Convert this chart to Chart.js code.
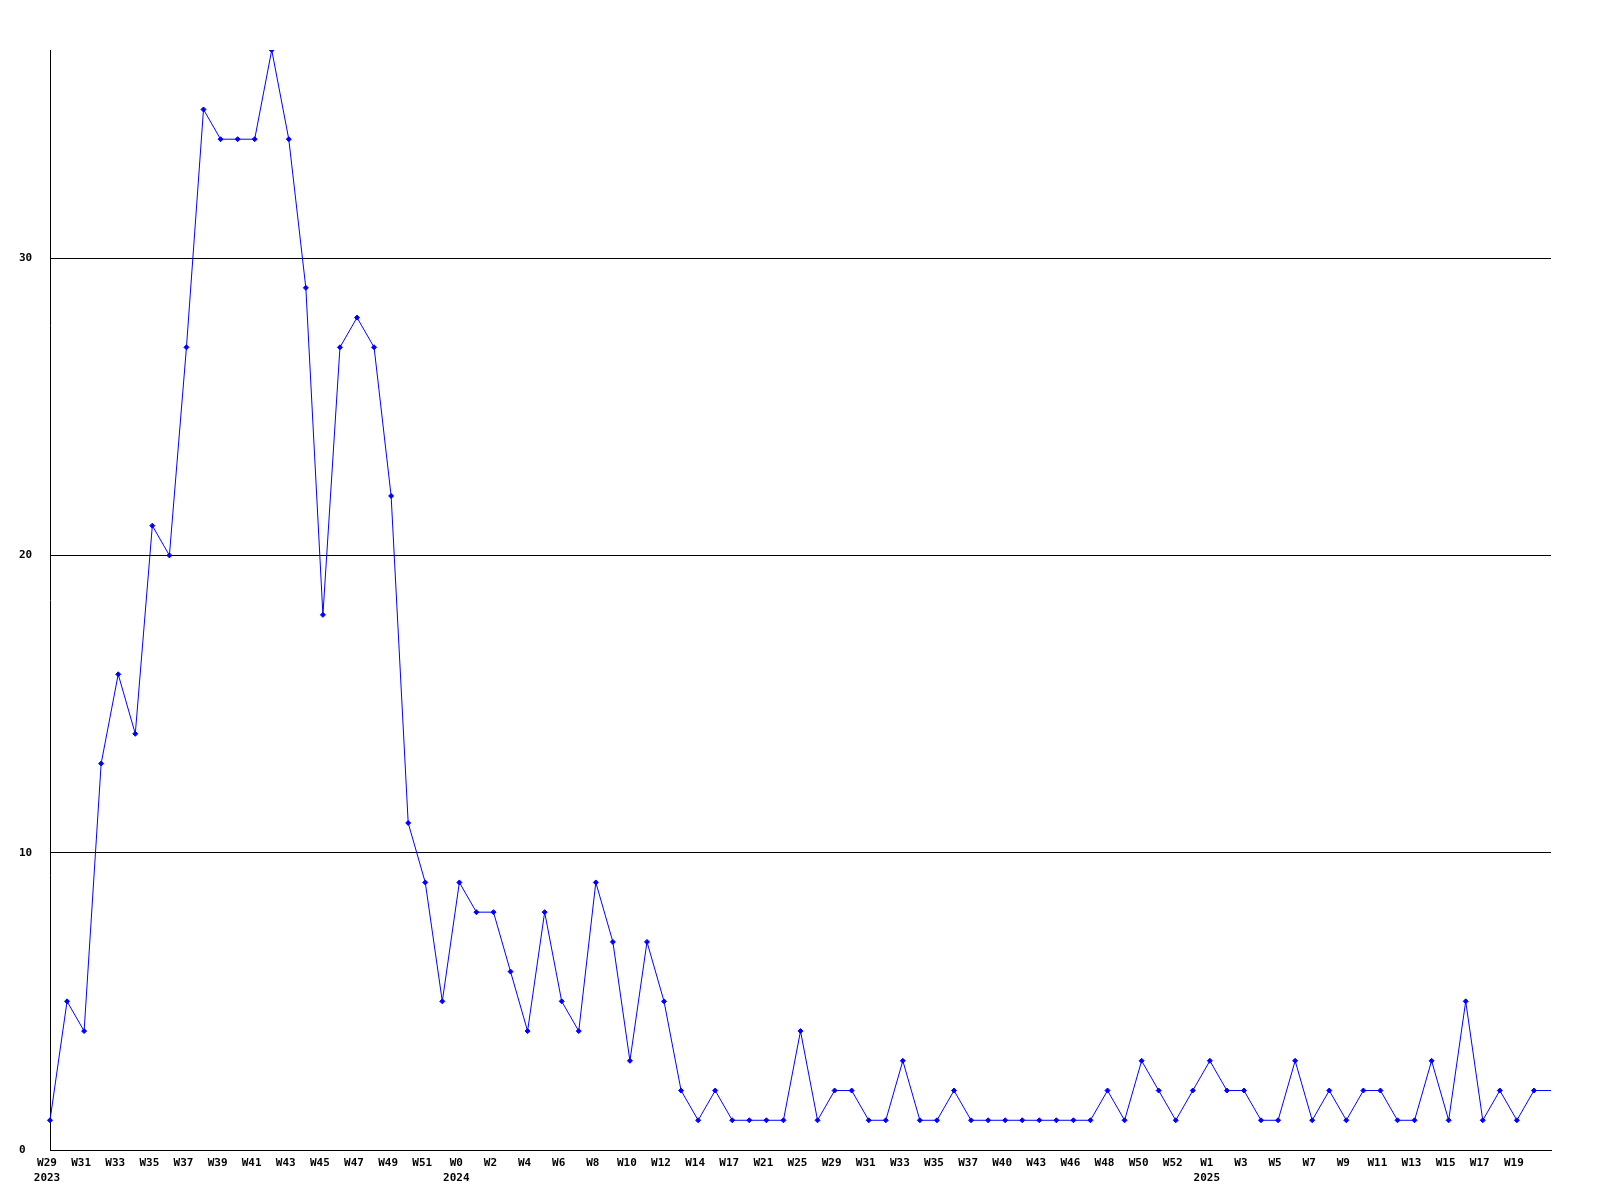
<!DOCTYPE html>
<html>
<head>
<meta charset="utf-8">
<title>Semanas</title>
<script src="https://cdn.jsdelivr.net/npm/chart.js@4/dist/chart.umd.min.js"></script>
<style>
  body { margin: 0; background: #fff; }
  canvas { display: block; }
</style>
</head>
<body>
<canvas id="grafico" width="1600" height="1200"></canvas>
<script>
// semanas (solo se muestra una de cada dos)
const semanas = [
  'W29','W30','W31','W32','W33','W34','W35','W36','W37','W38','W39','W40','W41','W42','W43','W44',
  'W45','W46','W47','W48','W49','W50','W51','W52',
  'W0','W1','W2','W3','W4','W5','W6','W7','W8','W9','W10','W11','W12','W13','W14','W16','W17','W19',
  'W21','W23','W25','W27','W29','W30','W31','W32','W33','W34','W35','W36','W37','W38','W40','W41',
  'W43','W44','W46','W47','W48','W49','W50','W51','W52',
  'W0','W1','W2','W3','W4','W5','W6','W7','W8','W9','W10','W11','W12','W13','W14','W15','W16','W17',
  'W18','W19','W20','W21'
];

// año que aparece debajo de la etiqueta
const anos = { 0: '2023', 24: '2024', 68: '2025' };

const valores = [
  1, 5, 4, 13, 16, 14, 21, 20, 27, 35, 34, 34, 34, 37, 34, 29,
  18, 27, 28, 27, 22, 11, 9, 5,
  9, 8, 8, 6, 4, 8, 5, 4, 9, 7, 3, 7, 5, 2, 1, 2, 1, 1,
  1, 1, 4, 1, 2, 2, 1, 1, 3, 1, 1, 2, 1, 1, 1, 1,
  1, 1, 1, 1, 2, 1, 3, 2, 1,
  2, 3, 2, 2, 1, 1, 3, 1, 2, 1, 2, 2, 1, 1, 3, 1, 5, 1,
  2, 1, 2, 2
];

const ticksY = [0, 10, 20, 30];

const ultimo = semanas.length - 1;
const fuente = { family: '"DejaVu Sans Mono", monospace', size: 11, weight: 'bold', lineHeight: 1.35 };

const ctx = document.getElementById('grafico').getContext('2d');
new Chart(ctx, {
  type: 'line',
  data: {
    labels: semanas,
    datasets: [{
      data: valores,
      borderColor: '#0000ff',
      backgroundColor: '#0000ff',
      borderWidth: 1,
      tension: 0,
      fill: false,
      pointStyle: 'rectRot',
      // el último punto (borde derecho) no lleva marca
      pointRadius: c => c.dataIndex === ultimo ? 0 : 2.5,
      pointBorderWidth: 1,
      pointBorderColor: '#0000ff',
      pointBackgroundColor: '#0000ff'
    }]
  },
  options: {
    responsive: false,
    animation: false,
    devicePixelRatio: 1,
    layout: { padding: { top: 50, right: 49, left: 19, bottom: 0 } },
    plugins: {
      legend: { display: false },
      tooltip: { enabled: false }
    },
    scales: {
      x: {
        type: 'category',
        offset: false,
        grid: { display: false, drawTicks: false },
        border: { display: true, color: '#000', width: 1 },
        ticks: {
          autoSkip: false,
          maxRotation: 0,
          minRotation: 0,
          padding: 6,
          labelOffset: -3,
          color: '#000',
          font: fuente,
          callback: function (val, i) {
            if (i % 2 !== 0 || i === ultimo) return '';
            return anos[i] ? [semanas[i], anos[i]] : semanas[i];
          }
        },
        afterFit: function (scale) { scale.height = 50; }
      },
      y: {
        min: 0,
        max: 37,
        grid: { display: true, color: '#000', lineWidth: 1, drawTicks: false },
        border: { display: true, color: '#000', width: 1 },
        afterBuildTicks: function (scale) {
          scale.ticks = ticksY.map(v => ({ value: v }));
        },
        ticks: {
          crossAlign: 'far',
          padding: 0,
          color: '#000',
          font: fuente
        },
        afterFit: function (scale) { scale.width = 31; }
      }
    }
  }
});
</script>
</body>
</html>
